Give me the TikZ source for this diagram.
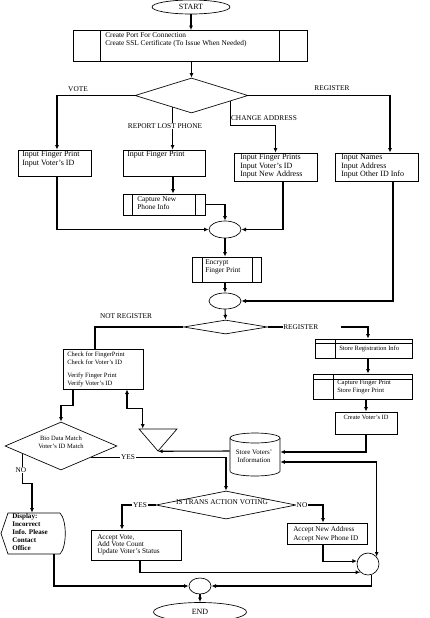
\documentclass[tikz,border=0pt]{standalone}
\usepackage{fontspec}
\setmainfont{Liberation Serif}
\usetikzlibrary{shapes.geometric,fit,calc,arrows.meta}
\begin{document}
\begin{tikzpicture}[x=0.75pt,y=-0.75pt,
  boxst/.style={draw,line width=0.5pt,inner sep=0pt},
  ell/.style={draw,ellipse,line width=0.5pt,inner sep=0pt},
  dia/.style={draw,diamond,line width=0.5pt,inner sep=0pt},
  tx/.style={inner sep=0pt,align=left,anchor=north west,font=\fontsize{5.5}{6.2}\selectfont},
  lbl/.style={inner sep=0.5pt,font=\fontsize{5.5}{6.2}\selectfont},
  conn/.style={draw,line width=0.8pt,-{Latex[length=3.5pt,width=3pt]}},
  conntwo/.style={draw,line width=0.8pt,{Latex[length=3.5pt,width=3pt]}-{Latex[length=3.5pt,width=3pt]}},
  cline/.style={draw,line width=0.8pt},
  thinl/.style={line width=0.5pt}]
\useasboundingbox (0,0) rectangle (429,618);

% ---------- top ----------
\node[ell,minimum width=78*0.75pt,minimum height=14*0.75pt,font=\fontsize{6}{7}\selectfont] (start) at (191,7) {START};
\node[boxst,fit={(73,30.5)(307,61)}] (p1) {};
\draw[thinl] (100,30.5) -- (100,61) (279,30.5) -- (279,61);
\node[tx] (p1t) at (105,32) {Create Port For Connection\\Create SSL Certificate (To Issue When Needed)};
\node[dia,minimum width=113*0.75pt,minimum height=35*0.75pt] (d1) at (191.5,95.5) {};
\draw[conn] (start.south) -- (start.south |- p1.north);
\draw[conn] (d1.north |- p1.south) -- (d1.north);

% ---------- input boxes ----------
\node[boxst,fit={(18,150)(91,176)}] (b1) {};
\node[boxst,fit={(123,150)(205,176)}] (b2) {};
\node[boxst,fit={(234,153)(317,181)}] (b3) {};
\node[boxst,fit={(335,153)(418,181)}] (b4) {};
\node[tx,font=\fontsize{6}{6.6}\selectfont] (b1t) at (22,151) {Input Finger Print\\Input Voter's ID};
\node[tx,font=\fontsize{6}{6.6}\selectfont] (b2t) at (127,151) {Input Finger Print};
\node[tx,font=\fontsize{6}{6.4}\selectfont] (b3t) at (240,154) {Input Finger Prints\\Input Voter's ID\\Input New Address};
\node[tx,font=\fontsize{6}{6.4}\selectfont] (b4t) at (341,154) {Input Names\\Input Address\\Input Other ID Info};

\draw[conn] (d1.west) -| ($(b1.north)+(2.5,0)$);
\path ($(d1.south)!0.333!(d1.west)$) coordinate (rl);
\draw[conn] (rl) -- (rl |- b2.north);
\path ($(d1.south)!0.68!(d1.east)$) coordinate (ca);
\coordinate (cab) at ($(b3.north)+(0,-27)$);
\draw[conn] (ca) |- (cab) -- (b3.north);
\draw[conn] (d1.east) -| ($(b4.north)+(13.5,0)$);
\node[lbl] (lvote) at (78,89) {VOTE};
\node[lbl,fill=white] (lrep) at (165,126) {REPORT LOST PHONE};
\node[lbl] (lchg) at (264,118) {CHANGE ADDRESS};
\node[lbl] (lreg) at (332,88) {REGISTER};

% ---------- capture / merge ----------
\node[boxst,fit={(123,194)(205,215)}] (c1) {};
\draw[thinl] (132,194) -- (132,215) (195,194) -- (195,215);
\node[tx] (c1t) at (137,196.5) {Capture New\\Phone Info};
\draw[conn] ($(b2.south)+(9,0)$) -- ($(c1.north)+(9,0)$);

\node[ell,minimum width=32*0.75pt,minimum height=17*0.75pt] (m1) at (225,229.5) {};
\draw[conn] (c1.east) -| (m1.north);
\draw[conn] ($(b1.south)+(2.5,0)$) |- (m1.west);
\draw[conn] ($(b3.south)+(7.5,0)$) |- (m1.east);

\node[boxst,fit={(192,257)(261,282)}] (enc) {};
\draw[thinl] (202,257) -- (202,282) (252,257) -- (252,282);
\node[tx] (enct) at (205,259.5) {Encrypt\\Finger Print};
\draw[conn] (m1.south) -- (m1.south |- enc.north);

\node[ell,minimum width=32*0.75pt,minimum height=16*0.75pt] (m2) at (225,301) {};
\draw[conn] (m2.north |- enc.south) -- (m2.north);
\draw[conn] ($(b4.south)+(16.5,0)$) |- (m2.east);

% ---------- register decision ----------
\node[dia,minimum width=84*0.75pt,minimum height=14*0.75pt] (d2) at (225.5,327) {};
\draw[conn] (m2.south) -- (d2.north);

\node[boxst,fit={(63,349)(143,389)}] (chk) {};
\node[tx,font=\fontsize{4.9}{5.8}\selectfont] (chkt) at (67,351.5) {Check for FingerPrint\\Check for Voter's ID\\[4.6pt]Verify Finger Print\\Verify Voter's ID};
\draw[cline] (d2.west) -| ($(chk.north)+(-8,0)$);
\node[lbl] (lnr) at (126,316) {NOT REGISTER};

\node[boxst,fit={(315,339)(412,358)}] (sr) {};
\draw[thinl] (315,343) -- (412,343) (335,339) -- (335,358);
\node[tx,anchor=west,font=\fontsize{4.9}{5.8}\selectfont] (srt) at (339,349) {Store Registration Info};
\node[lbl,anchor=west,inner sep=0pt,text width=42.75pt,align=left] (lreg2) at (283,327) {REGISTER};
\draw[cline] (d2.east) -- (lreg2.west);
\draw[conn] (lreg2.east) -| ($(sr.north)+(4.5,0)$);

\node[boxst,fit={(313,374)(412,399)}] (cf) {};
\draw[thinl] (313,379) -- (412,379) (333,374) -- (333,399);
\node[tx,font=\fontsize{4.9}{6}\selectfont] (cft) at (337,380) {Capture Finger Print\\Store Finger Print};
\coordinate (sra) at ($(sr.south)+(4.5,0)$);
\draw[conn] (sra) -- (sra |- cf.north);

\node[boxst,fit={(335,412)(397,434)}] (cv) {};
\node[lbl,anchor=north,inner sep=0pt,font=\fontsize{4.8}{5.5}\selectfont] (cvt) at (366,415) {Create Voter's ID};
\draw[conn] (cv.north |- cf.south) -- (cv.north);

% ---------- database ----------
\node[inner sep=0pt,fit={(230,433)(280,476)}] (cyl) {};
\draw[thinl] (255,438) ellipse [x radius=25,y radius=5];
\draw[thinl] (230,438) -- (230,471) arc[start angle=180,end angle=0,x radius=25,y radius=5] -- (280,438);
\node[font=\fontsize{5.2}{6}\selectfont,align=center,inner sep=0pt] (cylt) at (254,456) {Store Voters'\\Information};
\draw[conn] (cv.south) |- ($(cyl.east)+(0,-2.5)$);

% ---------- merge triangle ----------
\node[inner sep=0pt,fit={(139,429)(177,451)}] (tri) {};
\draw[thinl] (139,429) -- (177,429) -- (158,451) -- cycle;
\draw[conn] ($(cyl.west)+(0,-3.5)$) -- (tri.south);
\coordinate (tq) at ($(tri.north west)+(4,0)$);
\draw[conntwo] ($(chk.south)+(24,0)$) |- ($(tq)+(0,-20)$) -- (tq);

% ---------- match decision ----------
\node[dia,minimum width=112*0.75pt,minimum height=48*0.75pt] (d3) at (61,446) {};
\node[font=\fontsize{4.9}{6}\selectfont,align=center,inner sep=0pt] (d3t) at (61,442) {Bio Data Match\\Voter's ID Match};
\draw[conn] ($(chk.south)+(-30,0)$) |- ($(d3.north)+(0,-16)$) -- (d3.north);

% ---------- transaction decision ----------
\node[dia,minimum width=140*0.75pt,minimum height=28*0.75pt] (d4) at (226,505) {};
\node[lbl,inner sep=0pt] (d4t) at (222,502) {IS TRANS ACTION VOTING};
\path ($(d3.south)!0.54!(d3.east)$) coordinate (dy);
\draw[conn] (dy) -| (d4.north);
\node[lbl,fill=white] (ly1) at (128,457) {YES};

\node[boxst,fit={(91,530)(181,560)}] (av) {};
\node[boxst,fit={(287,523)(367,544)}] (an) {};
\draw[conn] (d4.west) -| ($(av.north)+(-14,0)$);
\node[lbl,fill=white] (ly2) at (140,505) {YES};
\draw[conn] (d4.east) -| ($(an.north)+(-4,0)$);
\node[lbl,fill=white] (ln2) at (302,505) {NO};
\node[tx,font=\fontsize{5.4}{5.6}\selectfont] (avt) at (97,534) {Accept Vote,\\Add Vote Count\\Update Voter's Status};
\node[tx,font=\fontsize{5.4}{6.75}\selectfont] (ant) at (293,526) {Accept New Address\\Accept New Phone ID};

% ---------- right merge ----------
\node[draw,circle,line width=0.5pt,inner sep=0pt,minimum size=22*0.75pt] (rc) at (368,564) {};
\draw[conn] ($(av.south)+(4,0)$) |- (rc.227);
\draw[conn] ($(an.south)+(-4,0)$) |- (rc.165);
\draw[conntwo] ($(cyl.east)+(0,7.5)$) -| (rc.40);

% ---------- end ----------
\node[ell,minimum width=22*0.75pt,minimum height=16*0.75pt] (ec) at (200,586) {};
\draw[conn] (rc.-70) |- (ec.east);

\node[inner sep=0pt,fit={(1,513)(65,554)}] (disp) {};
\draw[thinl] (8,513) -- (60,513) .. controls (67,520) and (67,547) .. (60,554) -- (8,554) -- (1,533.5) -- cycle;
\node[tx,font=\fontsize{5.3}{6}\selectfont\bfseries] (dispt) at (12,513.5) {Display:\\Incorrect\\Info. Please\\Contact\\Office};
\path ($(d3.south)!0.68!(d3.west)$) coordinate (dn);
\draw[conn] (dn) |- ($(disp.north)+(-1,-29)$) -- ($(disp.north)+(-1,0)$);
\node[lbl,fill=white] (lno) at (21,470) {NO};
\draw[conn] ($(disp.south)+(21,0)$) |- (ec.west);

\node[ell,minimum width=93*0.75pt,minimum height=19*0.75pt,font=\fontsize{6}{7}\selectfont] (endn) at (200,612) {END};
\draw[conn] (ec.south) -- (endn.north);
\end{tikzpicture}
\end{document}
